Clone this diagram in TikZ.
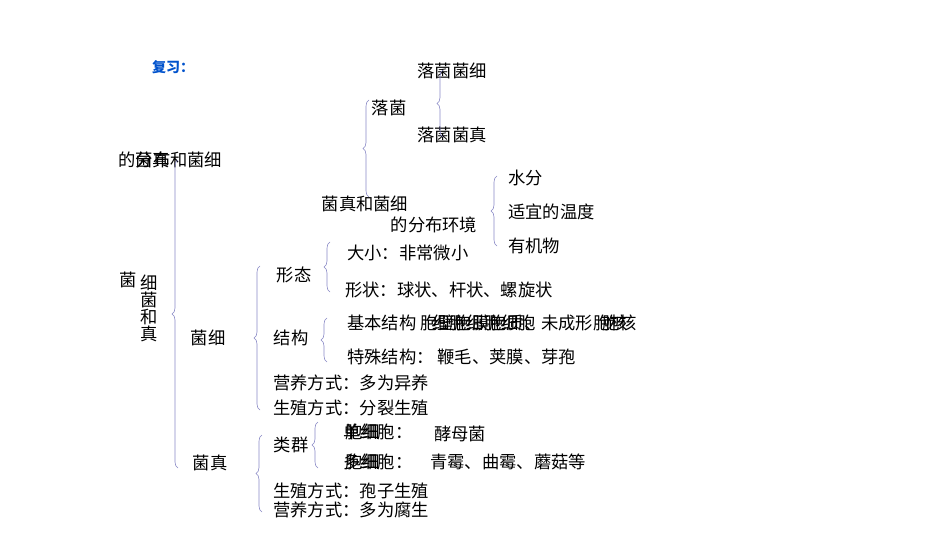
\documentclass[tikz,border=0pt]{standalone}
\usepackage{fontspec}
\newfontfamily\cjk{Noto Sans CJK SC}
\usetikzlibrary{decorations.pathreplacing}
\begin{document}
\begin{tikzpicture}[x=1pt,y=-1pt,
  t/.style={font=\cjk\fontsize{17.3}{19}\selectfont,inner sep=0pt},
  tl/.style={t,anchor=west},
  br/.style={draw=blue!35!gray!70,line width=0.6pt,decorate,decoration={brace,amplitude=6pt}}]
\useasboundingbox (0,0) rectangle (950,535);
\node[font=\cjk\bfseries\itshape\fontsize{14}{16}\selectfont,text=blue!60!cyan!80!black,inner sep=0pt] (fx) at (173,67) {复习：};
\node[t] (a1) at (452,71) {落菌菌细};
\node[t] (a2) at (389,108) {落菌};
\node[t] (a3) at (452,135) {落菌菌真};
\node[t] (a4) at (170,160) {的菌真和菌细};
\node[t] (a4b) at (153,160) {分布};
\node[t] (a5) at (365,204) {菌真和菌细};
\node[t] (a6) at (434,225) {的分布环境};
\node[tl] (e1) at (508,178) {水分};
\node[tl] (e2) at (508,212) {适宜的温度};
\node[tl] (e3) at (508,246) {有机物};
\node[t] (r1) at (128,280) {菌};
\node[t,align=center] (r2) at (149,308) {细\\[-2pt]菌\\[-2pt]和\\[-2pt]真};
\node[t] (x1) at (294,275) {形态};
\node[tl] (x2) at (347,253) {大小：非常微小};
\node[tl] (x3) at (345,290) {形状：球状、杆状、螺旋状};
\node[t] (b1) at (208,338) {菌细};
\node[t] (b2) at (291,338) {结构};
\node[tl] (s1) at (347,323) {基本结构 胞壁胞膜胞质、未成形胞核};
\node[tl] (s1b) at (432,323) {细胞细胞细胞};
\node[tl] (s1c) at (602,323) {胞核};
\node[tl] (s2) at (347,357) {特殊结构：\ 鞭毛、荚膜、芽孢};
\node[tl] (n1) at (273,383) {营养方式：多为异养};
\node[tl] (n2) at (273,408) {生殖方式：分裂生殖};
\node[t] (l1) at (291,445) {类群};
\node[tl] (g1) at (343,432) {单细胞：};
\node[tl] (g1b) at (345,432) {胞细};
\node[t] (g2) at (460,434) {酵母菌};
\node[tl] (g3) at (343,462) {多细胞：};
\node[tl] (g3b) at (345,462) {胞细};
\node[tl] (g4) at (430,462) {青霉、曲霉、蘑菇等};
\node[t] (f1) at (210,463) {菌真};
\node[tl] (f2) at (273,491) {生殖方式：孢子生殖};
\node[tl] (f3) at (273,510) {营养方式：多为腐生};
% braces
\draw[br] (178,468) -- (178,160);
\draw[br] (369,197) -- (369,100);
\draw[br] (443,137) -- (443,70);
\draw[br] (497,246) -- (497,176);
\draw[br] (260,410) -- (260,266);
\draw[br] (330,292) -- (330,242);
\draw[br] (327,362) -- (327,318);
\draw[br] (318,468) -- (318,422);
\draw[br] (262,512) -- (262,435);
\end{tikzpicture}
\end{document}
